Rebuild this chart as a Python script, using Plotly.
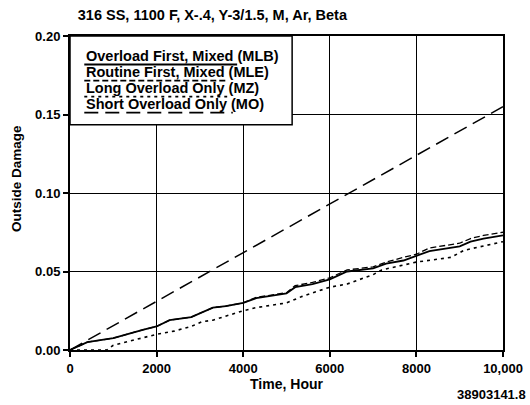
import plotly.graph_objects as go

# ---------------- data ----------------
mlb_hours = [0, 400, 1000, 1300, 1700, 2000, 2300, 2800, 3050, 3300, 3600, 4000, 4300,
             5000, 5200, 5600, 6000, 6400, 7000, 7300, 7700, 8000, 8300, 9000, 9250, 9550, 10000]
mlb_damage = [0, 0.005, 0.0075, 0.010, 0.013, 0.015, 0.019, 0.021, 0.024, 0.027, 0.028, 0.030, 0.033,
              0.036, 0.040, 0.042, 0.045, 0.050, 0.052, 0.055, 0.057, 0.060, 0.063, 0.066, 0.069, 0.071, 0.073]

mle_hours = [0, 400, 1000, 1300, 1700, 2000, 2300, 2800, 3050, 3300, 3600, 4000, 4300,
             5000, 5200, 5600, 6000, 6400, 7000, 7300, 7700, 8000, 8300, 9000, 9250, 9550, 10000]
mle_damage = [0, 0.005, 0.0075, 0.010, 0.013, 0.015, 0.019, 0.021, 0.024, 0.027, 0.028, 0.030, 0.0335,
              0.0365, 0.041, 0.043, 0.046, 0.051, 0.053, 0.056, 0.059, 0.061, 0.065, 0.068, 0.071, 0.073, 0.075]

mz_hours = [0, 850, 1000, 1300, 2000, 2400, 2800, 3050, 3300, 4000, 4300, 5000, 5350,
            6000, 6400, 7000, 7200, 8000, 8800, 9100, 10000]
mz_damage = [0, 0, 0.003, 0.005, 0.010, 0.012, 0.015, 0.018, 0.019, 0.025, 0.027, 0.030, 0.034,
             0.040, 0.042, 0.048, 0.051, 0.056, 0.059, 0.0635, 0.069]

mo_hours = [0, 10000]
mo_damage = [0, 0.155]

series_names = ["Overload First, Mixed (MLB)", "Routine First, Mixed (MLE)",
                "Long Overload Only (MZ)", "Short Overload Only (MO)"]
x_tickvals = [0, 2000, 4000, 6000, 8000, 10000]
x_ticktext = ["0", "2000", "4000", "6000", "8000", "10,000"]
y_tickvals = [0, 0.05, 0.10, 0.15, 0.20]
y_ticktext = ["0.00", "0.05", "0.10", "0.15", "0.20"]

title_text = "316 SS, 1100 F, X-.4, Y-3/1.5, M, Ar, Beta"
x_title = "Time, Hour"
y_title = "Outside Damage"
figure_id = "38903141.8"

# ---------------- figure ----------------
FONT = "Liberation Sans, Arial, Helvetica, sans-serif"
dashes = ["solid", "6px,3px", "3px,4px", "14px,7px"]
widths = [1.8, 1.3, 1.6, 1.5]

fig = go.Figure()
for hx, dy, name, dash, w in zip([mlb_hours, mle_hours, mz_hours, mo_hours],
                                 [mlb_damage, mle_damage, mz_damage, mo_damage],
                                 series_names, dashes, widths):
    fig.add_trace(go.Scatter(x=hx, y=dy, mode="lines", name=name, showlegend=False,
                             line=dict(color="black", width=w, dash=dash)))

axis_common = dict(showline=True, linecolor="black", linewidth=2, mirror=True,
                   showgrid=True, gridcolor="black", gridwidth=1.3, zeroline=False,
                   ticks="outside", ticklen=5, tickwidth=1.5, tickcolor="black",
                   tickfont=dict(family=FONT, size=13, color="black", weight="bold"))

fig.update_xaxes(range=[0, 10000], tickvals=x_tickvals, ticktext=x_ticktext,
                 title=dict(text=x_title, standoff=1,
                            font=dict(family=FONT, size=14, color="black", weight="bold")),
                 **axis_common)
fig.update_yaxes(range=[0, 0.2], tickvals=y_tickvals, ticktext=y_ticktext, **axis_common)

# legend box (custom, underlined-style legend)
shapes = [dict(type="rect", xref="paper", yref="paper", x0=0, x1=0.513, y0=0.717, y1=1,
               fillcolor="white", line=dict(color="black", width=1.5), layer="above")]
text_y = [0.936, 0.885, 0.834, 0.783]
under_y = [0.909, 0.858, 0.807, 0.756]
under_x1 = [0.386, 0.363, 0.363, 0.376]
annotations = []
for name, ty, uy, ux, dash, w in zip(series_names, text_y, under_y, under_x1, dashes, widths):
    annotations.append(dict(xref="paper", yref="paper", x=0.033, y=ty, xanchor="left",
                            yanchor="middle", text=name, showarrow=False,
                            font=dict(family=FONT, size=14.5, color="black", weight="bold")))
    shapes.append(dict(type="line", xref="paper", yref="paper", x0=0.033, x1=ux, y0=uy, y1=uy,
                       line=dict(color="black", width=w + 0.3, dash=dash), layer="above"))

# y-axis title (placed slightly above centre, as in the reference)
annotations.append(dict(xref="paper", yref="paper", x=-0.122, y=0.545, xanchor="center",
                        yanchor="middle", text=y_title, textangle=-90, showarrow=False,
                        font=dict(family=FONT, size=13.5, color="black", weight="bold")))

annotations.append(dict(xref="paper", yref="paper", x=1.058, y=-0.143, xanchor="right",
                        yanchor="middle", text=figure_id, showarrow=False,
                        font=dict(family=FONT, size=13, color="black", weight="bold")))

fig.update_layout(
    width=530, height=405,
    margin=dict(l=70, r=27, t=36, b=55, autoexpand=False),
    paper_bgcolor="white", plot_bgcolor="white",
    title=dict(text=title_text, x=0.018, xref="paper", xanchor="left",
               y=1 - 15 / 405, yref="container", yanchor="middle",
               font=dict(family=FONT, size=14.5, color="black", weight="bold")),
    shapes=shapes, annotations=annotations,
)

fig.write_html("out.html", config={"displayModeBar": False},
               post_script="document.body.style.margin='0';")
